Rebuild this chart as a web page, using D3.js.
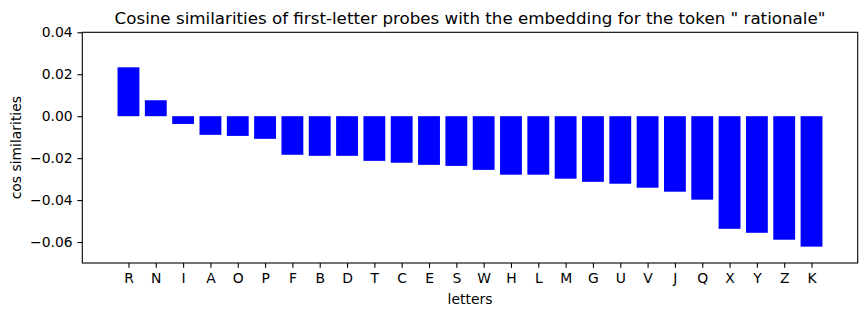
<!DOCTYPE html>
<html>
<head>
<meta charset="utf-8">
<script src="https://cdn.jsdelivr.net/npm/d3@7"></script>
<style>
  body { margin: 0; background: white; }
  svg { display: block; font-family: "DejaVu Sans", sans-serif; }
</style>
</head>
<body>
<div id="chart"></div>
<script>
let letters = ['R', 'N', 'I', 'A', 'O', 'P', 'F', 'B', 'D', 'T', 'C', 'E', 'S', 'W', 'H', 'L', 'M',
    'G', 'U', 'V', 'J', 'Q', 'X', 'Y', 'Z', 'K']
let cosSims = [0.0233, 0.0076, -0.0037, -0.0089, -0.0094, -0.0108, -0.0184, -0.0189, -0.0189, -0.0213,
    -0.0222, -0.0232, -0.0237, -0.0256, -0.0279, -0.0279, -0.0298, -0.0313, -0.0322, -0.0341,
    -0.0360, -0.0398, -0.0537, -0.0556, -0.0589, -0.0622]
let yTicks = [0.04, 0.02, 0.00, -0.02, -0.04, -0.06]

let width = 866, height = 316
let margin = {top: 32.3, right: 8.3, bottom: 53, left: 82.3}
let tickLen = 4.86, tickPad = 4.86
let barWidth = 0.8

let span = (letters.length - 1) + barWidth
let pad = span * 0.05
let x = d3.scaleLinear()
    .domain([-barWidth / 2 - pad, letters.length - 1 + barWidth / 2 + pad])
    .range([margin.left, width - margin.right])
let y = d3.scaleLinear()
    .domain([-0.07, 0.04])
    .range([height - margin.bottom, margin.top])

let svg = d3.select('#chart').append('svg')
    .attr('width', width)
    .attr('height', height)

svg.append('rect')
    .attr('width', width).attr('height', height)
    .style('fill', 'white')

// bars
svg.append('g').selectAll('rect')
    .data(cosSims)
    .join('rect')
    .attr('x', (d, i) => x(i - barWidth / 2))
    .attr('width', (d, i) => x(i + barWidth / 2) - x(i - barWidth / 2))
    .attr('y', d => y(Math.max(0, d)))
    .attr('height', d => Math.abs(y(d) - y(0)))
    .style('fill', '#0000ff')

let fmt = d => d3.format('.2f')(d).replace('-', '\u2212')

// x axis
let xAxis = d3.axisBottom(x)
    .tickValues(d3.range(letters.length))
    .tickFormat(i => letters[i])
    .tickSizeInner(tickLen).tickSizeOuter(0).tickPadding(tickPad)
let gx = svg.append('g')
    .attr('transform', `translate(0, ${height - margin.bottom})`)
    .call(xAxis)
gx.select('.domain').remove()

// y axis
let yAxis = d3.axisLeft(y)
    .tickValues(yTicks)
    .tickFormat(fmt)
    .tickSizeInner(tickLen).tickSizeOuter(0).tickPadding(tickPad)
let gy = svg.append('g')
    .attr('transform', `translate(${margin.left}, 0)`)
    .call(yAxis)
gy.select('.domain').remove()

svg.selectAll('.tick line').attr('stroke', 'black').attr('stroke-width', 1.1)
svg.selectAll('.tick text')
    .attr('fill', 'black')
    .style('font-size', '13.9px')
    .style('font-family', '"DejaVu Sans", sans-serif')

// frame
svg.append('rect')
    .attr('x', margin.left)
    .attr('y', margin.top)
    .attr('width', width - margin.left - margin.right)
    .attr('height', height - margin.top - margin.bottom)
    .style('fill', 'none')
    .attr('stroke', 'black')
    .attr('stroke-width', 1.1)

// title and labels
svg.append('text')
    .attr('x', (margin.left + width - margin.right) / 2)
    .attr('y', 24)
    .attr('text-anchor', 'middle')
    .style('font-size', '16.7px')
    .text('Cosine similarities of first-letter probes with the embedding for the token " rationale"')

svg.append('text')
    .attr('x', (margin.left + width - margin.right) / 2)
    .attr('y', 304)
    .attr('text-anchor', 'middle')
    .style('font-size', '13.9px')
    .text('letters')

svg.append('text')
    .attr('transform', `translate(20.7, ${(margin.top + height - margin.bottom) / 2}) rotate(-90)`)
    .attr('text-anchor', 'middle')
    .style('font-size', '13.9px')
    .text('cos similarities')
</script>
</body>
</html>
